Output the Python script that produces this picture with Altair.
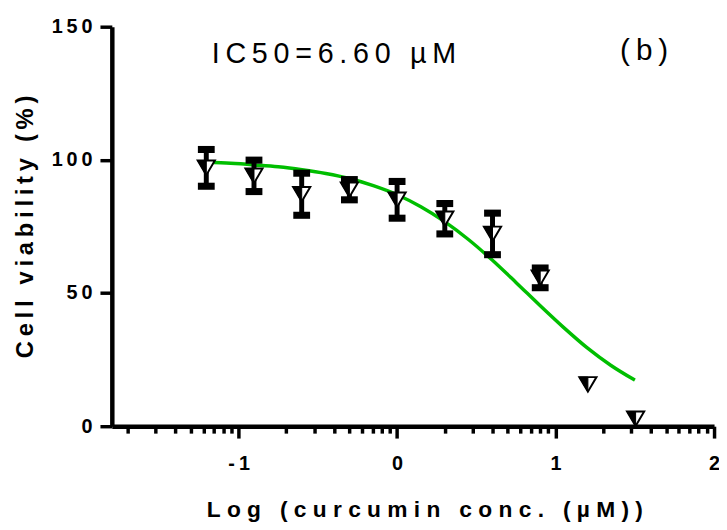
import altair as alt
import pandas as pd

# ---- data ----
log_conc = [-1.204, -0.903, -0.602, -0.301, 0.0, 0.301, 0.602, 0.903, 1.204, 1.505]
viability = [97.0, 94.0, 87.1, 88.8, 85.0, 77.9, 72.2, 55.7, 15.7, 2.8]
sd = [6.9, 5.9, 7.9, 3.8, 6.9, 5.7, 7.8, 3.7, 0.0, 0.0]

curve_x = [-1.2, -1.05, -0.9, -0.75, -0.6, -0.45, -0.3, -0.15, 0.0, 0.15,
           0.3, 0.45, 0.6, 0.75, 0.9, 1.05, 1.2, 1.35, 1.5]
curve_y = [99.1, 98.7, 98.1, 97.4, 96.3, 94.9, 93.0, 90.3, 86.9, 82.4,
           76.8, 70.1, 62.4, 54.0, 45.4, 37.1, 29.4, 22.8, 17.3]

x_major = [-1, 0, 1, 2]
x_minor = [-1.699, -1.523, -1.398, -1.301, -1.222, -1.155, -1.097, -1.046,
           -0.699, -0.523, -0.398, -0.301, -0.222, -0.155, -0.097, -0.046,
           0.301, 0.477, 0.602, 0.699, 0.778, 0.845, 0.903, 0.954,
           1.301, 1.477, 1.602, 1.699, 1.778, 1.845, 1.903, 1.954]
y_ticks = [0, 50, 100, 150]

ic50_text = "IC50=6.60 µM"
panel_text = "(b)"
x_title = "Log (curcumin conc. (µM))"
y_title = "Cell viability (%)"

SP = "\u2009"    # thin space, imitates the wide letter spacing of the original
SP2 = "\u2008"   # punctuation space, slightly wider
def spaced(s, sep=SP):
    return sep.join(s)

FONT = "Liberation Sans"
GREEN = "#00BE00"

pts = pd.DataFrame({"x": log_conc, "y": viability, "sd": sd})
crv = pd.DataFrame({"x": curve_x, "y": curve_y})
minor_df = pd.DataFrame({"m": x_minor})

x_scale = alt.Scale(domain=[-1.8, 2], nice=False, zero=False)
y_scale = alt.Scale(domain=[0, 150], nice=False, zero=False)

label_expr = "join(split(toString(datum.value), ''), '" + SP + "')"

x_axis = alt.Axis(
    orient="bottom", values=x_major,
    tickSize=12, tickWidth=3.5, tickColor="black",
    domainWidth=4.5, domainColor="black",
    labelExpr=label_expr, labelFont=FONT, labelFontSize=20, labelFontWeight="bold",
    labelColor="black", labelPadding=16, labelOverlap=False, labelBound=False, labelFlush=False,
    grid=False,
    title=spaced(x_title, SP2), titleFont=FONT, titleFontSize=23, titleFontWeight="bold",
    titleColor="black", titleX=316, titleY=91, titleBaseline="alphabetic", titleAlign="center",
)
x_minor_axis = alt.Axis(
    orient="bottom", values=x_minor, tickSize=7, tickWidth=3.5, tickColor="black",
    domain=False, labels=False, grid=False, title=None,
)
y_axis = alt.Axis(
    values=y_ticks,
    tickSize=12, tickWidth=3.5, tickColor="black",
    domainWidth=4.5, domainColor="black",
    labelExpr=label_expr, labelFont=FONT, labelFontSize=20, labelFontWeight="bold",
    labelColor="black", labelPadding=8, labelOverlap=False, labelBound=False, labelFlush=False,
    grid=False,
    title=spaced(y_title), titleFont=FONT, titleFontSize=24, titleFontWeight="bold",
    titleColor="black", titleX=-80, titleY=202, titleAngle=-90, titleBaseline="alphabetic",
    titleAlign="center",
)

X = alt.X("x:Q", scale=x_scale, axis=x_axis)
Y = alt.Y("y:Q", scale=y_scale, axis=y_axis)

TRI = "M -1 -0.85 L 1 -0.85 L 0 0.85 Z"
HALF = "M -1 -0.85 L 0 -0.85 L 0 0.85 Z"
CAP = "M -1 -0.42 L 1 -0.42 L 1 0.42 L -1 0.42 Z"

curve = alt.Chart(crv).mark_line(color=GREEN, strokeWidth=3.5, interpolate="monotone").encode(x=X, y=Y)

bars_base = alt.Chart(pts).transform_filter("datum.sd > 0").transform_calculate(
    lo="datum.y - datum.sd", hi="datum.y + datum.sd")

bars = bars_base.mark_rule(color="black", strokeWidth=5).encode(
    x=X, y=alt.Y("lo:Q", scale=y_scale, axis=y_axis), y2="hi:Q")
cap_lo = bars_base.mark_point(shape=CAP, filled=True, fill="black", opacity=1, strokeWidth=0, size=289).encode(
    x=X, y=alt.Y("lo:Q", scale=y_scale, axis=y_axis))
cap_hi = bars_base.mark_point(shape=CAP, filled=True, fill="black", opacity=1, strokeWidth=0, size=289).encode(
    x=X, y=alt.Y("hi:Q", scale=y_scale, axis=y_axis))

tri = alt.Chart(pts).mark_point(shape=TRI, filled=True, fill="white", stroke="black",
                                strokeWidth=2, opacity=1, size=300).encode(x=X, y=Y)
half = alt.Chart(pts).mark_point(shape=HALF, filled=True, fill="black", stroke="black",
                                 strokeWidth=1, opacity=1, size=300).encode(x=X, y=Y)

ann = pd.DataFrame({"t": [spaced(ic50_text)]})
ic50 = alt.Chart(ann).mark_text(font=FONT, fontSize=29, color="black", align="left",
                                baseline="alphabetic").encode(
    text="t:N", x=alt.value(101), y=alt.value(37))
pan = pd.DataFrame({"t": [spaced(panel_text)]})
panel = alt.Chart(pan).mark_text(font=FONT, fontSize=30, color="black", align="left",
                                 baseline="alphabetic").encode(
    text="t:N", x=alt.value(514), y=alt.value(34))

main = alt.layer(curve, bars, cap_lo, cap_hi, tri, half, ic50, panel)

minor = alt.Chart(minor_df).mark_point(opacity=0, size=1).encode(
    x=alt.X("m:Q", scale=x_scale, axis=x_minor_axis), y=alt.value(0))

chart = alt.layer(main, minor).resolve_axis(x="independent").properties(
    width=609, height=404,
    autosize=alt.AutoSizeParams(type="none"),
    padding={"left": 105, "top": 16, "right": 5, "bottom": 98},
    background="white",
).configure_view(stroke=None)

chart.save("out.html", embed_options={"renderer": "svg", "actions": False})
